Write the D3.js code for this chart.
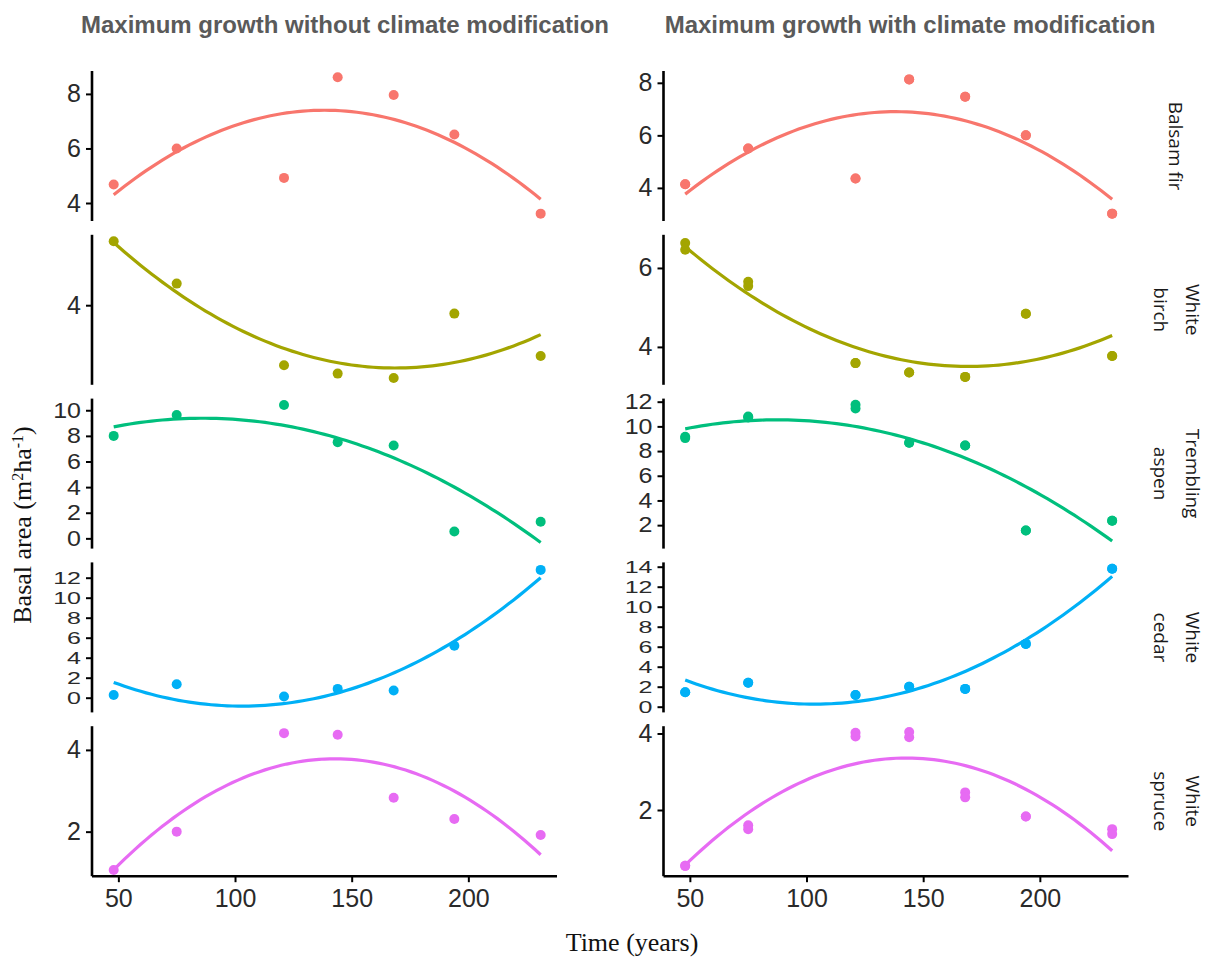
<!DOCTYPE html>
<html>
<head>
<meta charset="utf-8">
<script src="https://cdn.jsdelivr.net/npm/d3@7"></script>
<style>
  body { margin: 0; background: #fff; }
  svg { display: block; }
</style>
</head>
<body>
<svg id="chart" width="1212" height="960"></svg>
<script>
// Stand ages (years) at which basal area was simulated
const years = [48, 75, 121, 144, 168, 194, 231];

const stripLines = [["Balsam fir"], ["White", "birch"], ["Trembling", "aspen"], ["White", "cedar"], ["White", "spruce"]];
const speciesColors = ["#F8766D", "#A3A500", "#00BF7D", "#00B0F6", "#E76BF3"];
const panelTitles = ["Maximum growth without climate modification", "Maximum growth with climate modification"];
const xTicks = [50, 100, 150, 200];
const xDomain = [38.7, 238];

// Basal area (m2/ha) without climate modification
const firBase    = [4.68, 6.00, 4.92, 8.61, 7.96, 6.51, 3.61];
const birchBase  = [5.60, 4.54, 2.50, 2.29, 2.18, 3.79, 2.73];
const aspenBase  = [8.00, 9.63, 10.41, 7.51, 7.25, 0.53, 1.30];
const cedarBase  = [0.27, 1.34, 0.12, 0.88, 0.72, 5.20, 12.78];
const spruceBase = [1.06, 2.00, 4.41, 4.37, 2.83, 2.31, 1.92];

// Basal area (m2/ha) with climate modification, two runs per age
const firClimA    = [4.14, 5.50, 4.36, 8.13, 7.47, 6.00, 3.02];
const firClimB    = [4.14, 5.50, 4.36, 8.13, 7.47, 6.00, 3.02];
const birchClimA  = [6.63, 5.65, 3.59, 3.35, 3.24, 4.84, 3.77];
const birchClimB  = [6.46, 5.54, 3.59, 3.35, 3.24, 4.84, 3.77];
const aspenClimA  = [9.16, 10.79, 11.75, 8.68, 8.45, 1.57, 2.36];
const aspenClimB  = [9.05, 10.72, 11.45, 8.68, 8.45, 1.57, 2.36];
const cedarClimA  = [1.44, 2.40, 1.17, 2.00, 1.78, 6.28, 13.79];
const cedarClimB  = [1.44, 2.40, 1.17, 2.00, 1.78, 6.28, 13.79];
const spruceClimA = [0.54, 1.60, 4.02, 4.04, 2.46, 1.83, 1.50];
const spruceClimB = [0.54, 1.50, 3.92, 3.90, 2.33, 1.83, 1.37];

// Free y scales per row
const yDomainsBase = [[3.34, 8.84], [2.01, 5.76], [-0.8, 10.91], [-1.47, 13.53], [0.91, 4.58]];
const yDomainsClim = [[2.74, 8.45], [3.04, 6.84], [0.10, 12.25], [-0.57, 14.43], [0.27, 4.19]];
const yTicksBase = [[4, 6, 8], [4], [0, 2, 4, 6, 8, 10], [0, 2, 4, 6, 8, 10, 12], [2, 4]];
const yTicksClim = [[4, 6, 8], [4, 6], [2, 4, 6, 8, 10, 12], [0, 2, 4, 6, 8, 10, 12, 14], [2, 4]];

const panels = [
  { title: panelTitles[0], series: [[firBase], [birchBase], [aspenBase], [cedarBase], [spruceBase]],
    domains: yDomainsBase, ticks: yTicksBase },
  { title: panelTitles[1], series: [[firClimA, firClimB], [birchClimA, birchClimB], [aspenClimA, aspenClimB],
                                    [cedarClimA, cedarClimB], [spruceClimA, spruceClimB]],
    domains: yDomainsClim, ticks: yTicksClim }
];

// Layout
const panelLeft = [92, 663.5];
const panelWidth = 465;
const rowTop = 71, rowHeight = 150, rowStep = 163.8;
const tickFont = "'Liberation Sans', Arial, Helvetica, sans-serif";
const tickSize = 25;

const svg = d3.select("#chart");

// Least-squares quadratic fit y = a + b*u + c*u^2 (u centred on mean x)
function quadFit(xs, ys) {
  const mx = d3.mean(xs);
  let s = [0, 0, 0, 0, 0], t = [0, 0, 0];
  xs.forEach((x, i) => {
    const u = x - mx;
    for (let k = 0; k < 5; k++) s[k] += Math.pow(u, k);
    for (let k = 0; k < 3; k++) t[k] += ys[i] * Math.pow(u, k);
  });
  const M = [[s[0], s[1], s[2], t[0]], [s[1], s[2], s[3], t[1]], [s[2], s[3], s[4], t[2]]];
  for (let c = 0; c < 3; c++) {
    let p = c;
    for (let r = c + 1; r < 3; r++) if (Math.abs(M[r][c]) > Math.abs(M[p][c])) p = r;
    [M[c], M[p]] = [M[p], M[c]];
    for (let r = 0; r < 3; r++) {
      if (r === c) continue;
      const f = M[r][c] / M[c][c];
      for (let k = c; k < 4; k++) M[r][k] -= f * M[c][k];
    }
  }
  const coef = [M[0][3] / M[0][0], M[1][3] / M[1][1], M[2][3] / M[2][2]];
  return x => { const u = x - mx; return coef[0] + coef[1] * u + coef[2] * u * u; };
}

panels.forEach((panel, pi) => {
  const x0 = panelLeft[pi];
  const x = d3.scaleLinear().domain(xDomain).range([x0, x0 + panelWidth]);

  // Panel title
  svg.append("text")
    .attr("x", pi === 0 ? 345 : 910).attr("y", 33)
    .attr("text-anchor", "middle")
    .attr("font-family", tickFont).attr("font-weight", "bold")
    .attr("font-size", 24).attr("fill", "#5a5a5a")
    .text(panel.title);

  panel.series.forEach((runs, ri) => {
    const top = rowTop + ri * rowStep;
    const y = d3.scaleLinear().domain(panel.domains[ri]).range([top + rowHeight, top]);
    const color = speciesColors[ri];
    const g = svg.append("g");

    // Fitted quadratic trend over all runs
    const xs = [], ys = [];
    runs.forEach(vals => vals.forEach((v, i) => { xs.push(years[i]); ys.push(v); }));
    const f = quadFit(xs, ys);
    const [xmin, xmax] = d3.extent(years);
    const curve = d3.range(80).map(k => {
      const xv = xmin + (xmax - xmin) * k / 79;
      return [xv, f(xv)];
    });
    g.append("path")
      .datum(curve)
      .attr("fill", "none").attr("stroke", color).attr("stroke-width", 3.2)
      .attr("d", d3.line().x(d => x(d[0])).y(d => y(d[1])));

    // Points
    runs.forEach(vals => {
      g.selectAll(null).data(vals).enter().append("circle")
        .attr("cx", (d, i) => x(years[i]))
        .attr("cy", d => y(d))
        .attr("r", 5)
        .attr("fill", color);
    });

    // Y axis; densely ticked rows get vertically condensed labels
    const tv = panel.ticks[ri];
    const spacing = tv.length > 1 ? Math.abs(y(tv[1]) - y(tv[0])) : 100;
    const squeeze = Math.min(1, spacing / (tickSize * 1.16));
    const ay = svg.append("g")
      .attr("transform", `translate(${x0},0)`)
      .call(d3.axisLeft(y).tickValues(tv).tickSize(6).tickPadding(5).tickFormat(d3.format("d")));
    ay.select(".domain").attr("d", `M0,${top}V${top + rowHeight}`).attr("stroke", "#000").attr("stroke-width", 2.6);
    ay.selectAll(".tick line").attr("stroke", "#000").attr("stroke-width", 2);
    ay.selectAll(".tick text")
      .attr("font-family", tickFont).attr("font-size", tickSize).attr("fill", "#2a2a2a")
      .attr("transform", `scale(1,${squeeze})`);

    // Row strip labels on the right of the second panel
    if (pi === 1) {
      const lines = stripLines[ri];
      const cy = top + rowHeight / 2;
      const baseX = lines.length === 1 ? [1169] : [1186, 1154];
      lines.forEach((ln, li) => {
        svg.append("text")
          .attr("transform", `translate(${baseX[li]},${cy}) rotate(90)`)
          .attr("text-anchor", "middle")
          .attr("font-family", "'Open Sans', 'Noto Sans', sans-serif")
          .attr("font-size", 19).attr("fill", "#1a1a1a")
          .text(ln);
      });
    }
  });

  // X axis at the bottom row
  const bottom = rowTop + 4 * rowStep + rowHeight;
  const ax = svg.append("g")
    .attr("transform", `translate(0,${bottom})`)
    .call(d3.axisBottom(x).tickValues(xTicks).tickSize(6).tickPadding(7));
  ax.select(".domain").attr("d", `M${x0},0H${x0 + panelWidth}`).attr("stroke", "#000").attr("stroke-width", 2.6);
  ax.selectAll(".tick line").attr("stroke", "#000").attr("stroke-width", 2);
  ax.selectAll(".tick text").attr("font-family", tickFont).attr("font-size", tickSize).attr("fill", "#2a2a2a");
});

// Shared axis titles
svg.append("text")
  .attr("transform", "translate(31,525) rotate(-90)")
  .attr("text-anchor", "middle")
  .attr("font-family", "'Liberation Serif', 'Times New Roman', serif")
  .attr("font-size", 26).attr("fill", "#111")
  .html("Basal area (m<tspan baseline-shift='super' font-size='16'>2</tspan>ha<tspan baseline-shift='super' font-size='16'>-1</tspan>)");

svg.append("text")
  .attr("x", 632).attr("y", 951)
  .attr("text-anchor", "middle")
  .attr("font-family", "'Liberation Serif', 'Times New Roman', serif")
  .attr("font-size", 26).attr("fill", "#111")
  .text("Time (years)");
</script>
</body>
</html>
